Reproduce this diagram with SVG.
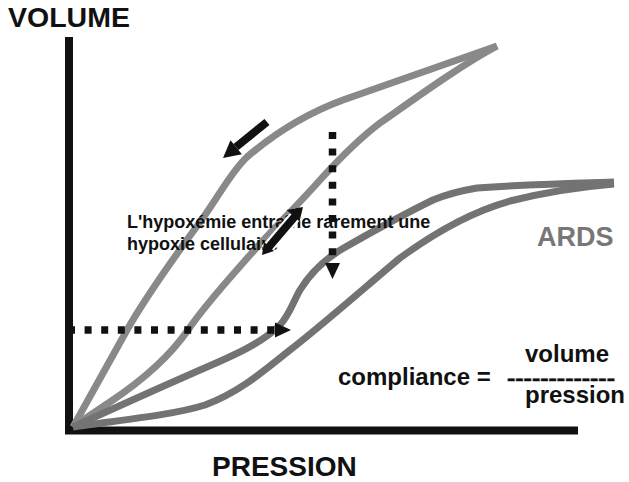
<svg xmlns="http://www.w3.org/2000/svg" width="629" height="482" viewBox="0 0 629 482">
  <style>
    .axis { stroke: #111; stroke-width: 8; fill: none; }
    .loop-normal { stroke: #898989; stroke-width: 7; fill: none; stroke-linecap: butt; }
    .loop-ards { stroke: #737373; stroke-width: 7; fill: none; stroke-linecap: butt; }
    .dotted { stroke: #111; stroke-width: 7.5; fill: none; stroke-dasharray: 7 9.6; }
    .head { fill: #111; }
    .shaft { stroke: #111; stroke-width: 8; fill: none; }
    .halo { stroke: #fff; stroke-width: 12; fill: none; }
    .t { font-family: "Liberation Sans", Arial, sans-serif; font-weight: bold; fill: #111; }
  </style>

  <rect width="629" height="482" fill="#fff"/>

  <!-- axes -->
  <g id="axes">
    <line class="axis" x1="69" y1="37" x2="69" y2="434"/>
    <line class="axis" x1="65" y1="430.5" x2="578" y2="430.5" stroke-width="7"/>
  </g>

  <!-- pressure-volume loops -->
  <g id="loop-normal">
    <path class="loop-normal" d="M73,427 C92,393 110,360 127,330 C143,302 175,256 200,222 C218,198 230,173 247,157 C275,133 305,114 343,100 C400,80 450,62 497,46"/>
    <path class="loop-normal" d="M497,46 C460,66 420,95 380,123 C360,138 340,158 320,180 C298,205 272,230 250,255 C228,280 205,305 188,330 C170,356 140,382 110,402 C95,412 83,420 73,427"/>
  </g>
  <g id="loop-ards">
    <path class="loop-ards" d="M73,427 C110,410 150,392 200,370 C235,355 262,343 280,325 C290,314 293,302 300,290 C308,277 322,261 342,249 C370,233 400,216 433,200 C450,193 465,190 477,188 C530,184 580,183 614,182"/>
    <path class="loop-ards" d="M73,427 C110,421 170,416 205,405 C240,392 265,370 290,350 C320,327 370,283 400,258 C430,236 470,212 510,201 C550,191 590,186 614,184"/>
  </g>

  <!-- labels -->
  <g id="label-volume"><text class="t" x="8" y="27" font-size="28.5">VOLUME</text></g>
  <g id="label-pression"><text class="t" x="212" y="476" font-size="28">PRESSION</text></g>
  <g id="label-ards"><text class="t" x="537" y="246" font-size="27" style="fill:#777">ARDS</text></g>
  <g id="label-note">
    <text class="t" x="127" y="228" font-size="18">L'hypoxémie entraîne rarement une</text>
    <text class="t" x="127" y="250" font-size="18">hypoxie cellulaire</text>
  </g>
  <g id="label-compliance">
    <text class="t" x="338" y="385" font-size="24">compliance =</text>
    <text class="t" x="507" y="384.5" font-size="18" stroke="#111" stroke-width="0.5" textLength="108" lengthAdjust="spacingAndGlyphs">-------------</text>
    <text class="t" x="525" y="362" font-size="24">volume</text>
    <text class="t" x="525" y="403" font-size="24">pression</text>
  </g>

  <!-- connectors -->
  <g id="connectors">
    <!-- dotted arrows -->
    <path class="dotted" d="M68,330 H274"/>
    <polygon class="head" points="275,322.5 291,330 275,337.5"/>
    <path class="dotted" d="M332.5,132 V262"/>
    <polygon class="head" points="325,263 340,263 332.5,279"/>

    <!-- solid arrow along the deflation limb -->
    <line class="shaft" x1="267" y1="122" x2="236" y2="147"/>
    <polygon class="head" points="223,158 230.5,140.2 241.9,154.2"/>

    <!-- double arrow -->
    <g>
      <line class="halo" x1="266" y1="250" x2="299" y2="212" stroke-width="10"/>
      <line class="shaft" x1="268" y1="248" x2="297" y2="214" stroke-width="6.5"/>
      <polygon class="head" points="303,207 286.5,210 299.5,221.5"/>
      <polygon class="head" points="262,255 264,242 274,251"/>
    </g>
  </g>
</svg>
